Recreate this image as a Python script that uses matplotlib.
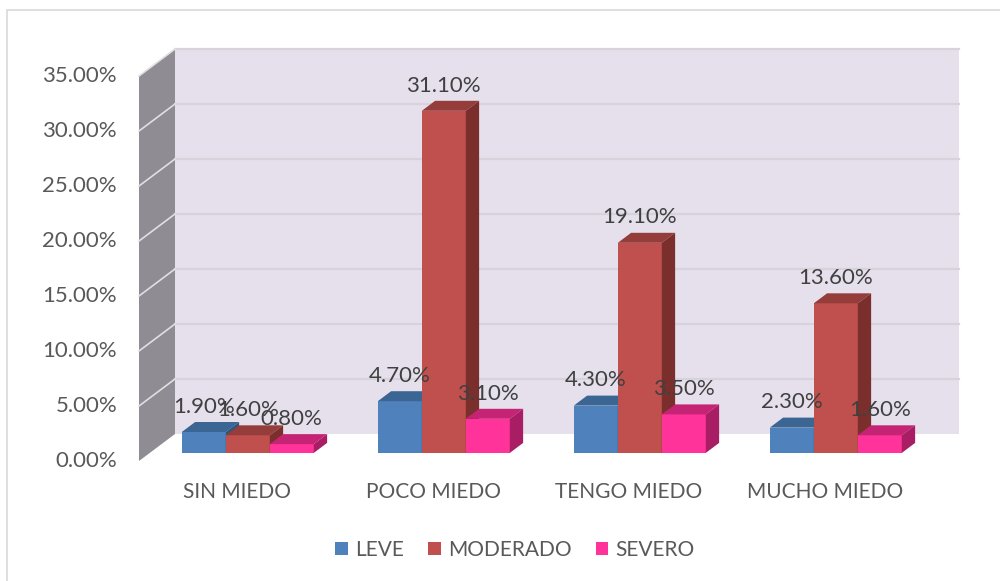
import matplotlib
matplotlib.use("Agg")
import matplotlib.pyplot as plt
from matplotlib.patches import Polygon, Patch, Rectangle

categorias = ["SIN MIEDO", "POCO MIEDO", "TENGO MIEDO", "MUCHO MIEDO"]
series = ["LEVE", "MODERADO", "SEVERO"]
leve = [1.9, 4.7, 4.3, 2.3]
moderado = [1.6, 31.1, 19.1, 13.6]
severo = [0.8, 3.1, 3.5, 1.6]
yticks = [0, 5, 10, 15, 20, 25, 30, 35]

valores = [leve, moderado, severo]
frente = ["#4f81bd", "#c0504d", "#ff3399"]
arriba = ["#3b6593", "#953d3b", "#c52373"]
lado = ["#30547f", "#7b2f2d", "#a81d63"]

plt.rcParams["font.family"] = ["Lato", "DejaVu Sans"]
FS = 15     # category + legend text
FN = 16     # numbers

fig = plt.figure(figsize=(10, 5.81), dpi=100)
ax = fig.add_axes([0, 0, 1, 1])
ax.set_xlim(-237 / 196, 763 / 196)
ax.set_ylim(-120 / 11, 461 / 11)
ax.axis("off")

# oblique offset for full depth (x in category units, y in percent)
DX = 36 / 196
DY = 27 / 11
x0, x1, ymax = -0.5, 3.5, 35

# side wall + back wall
ax.add_patch(Polygon([(x0, 0), (x0, ymax), (x0 + DX, ymax + DY), (x0 + DX, DY)],
                     closed=True, fc="#8f8c94", ec="none", zorder=0))
ax.add_patch(Polygon([(x0 + DX, DY), (x0 + DX, ymax + DY), (x1 + DX, ymax + DY), (x1 + DX, DY)],
                     closed=True, fc="#e5e0ec", ec="none", zorder=0))
for v in yticks[1:]:
    ax.plot([x0 + DX, x1 + DX], [v + DY, v + DY], color="#d6d3da", lw=1.6, zorder=1)
    ax.plot([x0, x0 + DX], [v, v + DY], color="#e0e0e0", lw=1.2, zorder=1)
for v in yticks:
    ax.text(-0.612, v, f"{v:.2f}%", ha="right", va="center", fontsize=FN, color="#595959")

# bars
w = 44 / 196
d0, d1 = 0.3, 0.67
for i, cat in enumerate(categorias):
    ax.text(i, -2.85, cat, ha="center", va="center", fontsize=FS, color="#595959")
    for j in range(3):
        val = valores[j][i]
        left = i - 1.5 * w + j * w + d0 * DX
        base = d0 * DY
        top = base + val
        ddx, ddy = (d1 - d0) * DX, (d1 - d0) * DY
        ax.bar(left, val, width=w, bottom=base, align="edge", color=frente[j],
               edgecolor="none", zorder=3 + j)
        ax.add_patch(Polygon([(left, top), (left + ddx, top + ddy), (left + w + ddx, top + ddy), (left + w, top)],
                             closed=True, fc=arriba[j], ec="none", zorder=3 + j))
        ax.add_patch(Polygon([(left + w, base), (left + w, top), (left + w + ddx, top + ddy), (left + w + ddx, base + ddy)],
                             closed=True, fc=lado[j], ec="none", zorder=3 + j))
        ax.text(left + w / 2, top + 2.3, f"{val:.2f}%", ha="center", va="center",
                fontsize=FN, color="#404040", zorder=10)

handles = [Patch(facecolor=c, label=s) for c, s in zip(frente, series)]
leg = fig.legend(handles=handles, loc="center", bbox_to_anchor=(0.515, 1 - 550 / 581), ncol=3,
                 frameon=False, fontsize=FS, handlelength=0.62, handleheight=0.62,
                 handletextpad=0.34, columnspacing=1.15)
for t in leg.get_texts():
    t.set_color("#595959")

fig.patches.append(Rectangle((0.007, -0.05), 1.2, 1.05 - 10 / 581, transform=fig.transFigure,
                             fill=False, ec="#d9d9d9", lw=1.2))

fig.savefig("out.png", dpi=100)
